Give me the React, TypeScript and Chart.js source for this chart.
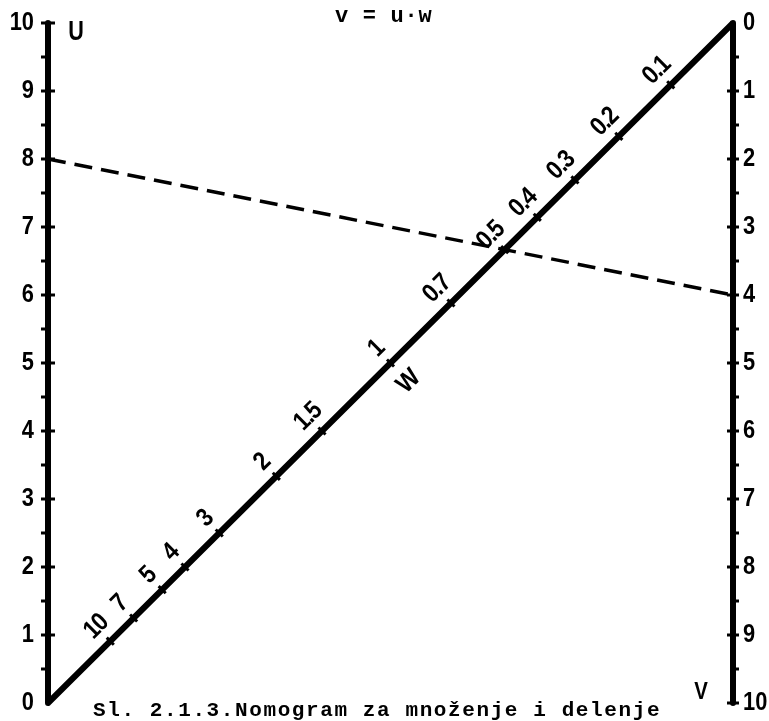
import { useEffect, useRef } from "react";
import { Chart, registerables } from "chart.js";

Chart.register(...registerables);

// U scale (left, rising) and V scale (right, falling) share the 0–10 range
const uTicks = [0, 1, 2, 3, 4, 5, 6, 7, 8, 9, 10];
const vTicks = [0, 1, 2, 3, 4, 5, 6, 7, 8, 9, 10];
// graduations of the diagonal W scale
const wValues = [10, 7, 5, 4, 3, 2, 1.5, 1, 0.7, 0.5, 0.4, 0.3, 0.2, 0.1];
const wLabels = ["10", "7", "5", "4", "3", "2", "1.5", "1", "0.7", "0.5", "0.4", "0.3", "0.2", "0.1"];
// worked example: u = 8 and v = 4 give w = 0.5
const exampleU = 8;
const exampleV = 4;

const formula = "v = u·w";
const caption = "Sl. 2.1.3.Nomogram za množenje i delenje";
const INK = "#000";

// a point of the W scale on the diagonal (x in 0..1, y in U units)
const wPos = (w: number) => ({ x: 1 / (1 + w), y: 10 / (1 + w) });

type TextOpts = {
  font: string;
  align?: CanvasTextAlign;
  baseline?: CanvasTextBaseline;
  angle?: number;
  sx?: number;
  spacing?: number;
};

function drawText(ctx: CanvasRenderingContext2D, text: string, x: number, y: number, o: TextOpts) {
  ctx.save();
  ctx.translate(x, y);
  if (o.angle) ctx.rotate(o.angle);
  if (o.sx) ctx.scale(o.sx, 1);
  ctx.font = o.font;
  ctx.textAlign = o.align ?? "center";
  ctx.textBaseline = o.baseline ?? "middle";
  (ctx as any).letterSpacing = (o.spacing ?? 0) + "px";
  ctx.fillStyle = INK;
  ctx.fillText(text, 0, 0);
  ctx.restore();
}

const NUM_FONT = "bold 26px 'Liberation Sans', Arial, sans-serif";
const W_FONT = "bold 26px 'Liberation Sans', Arial, sans-serif";
const MONO = "'Liberation Mono', 'DejaVu Sans Mono', monospace";

const nomogramPlugin = {
  id: "nomogramScales",
  afterDatasetsDraw(chart: any) {
    const ctx: CanvasRenderingContext2D = chart.ctx;
    const xs = chart.scales.x;
    const ys = chart.scales.y;
    const vs = chart.scales.v;
    const xl = xs.getPixelForValue(0);
    const xr = xs.getPixelForValue(1);

    ctx.save();
    ctx.strokeStyle = INK;
    ctx.lineCap = "butt";

    // U axis graduations: whole units across the line, halves on the outside
    ctx.lineWidth = 3;
    uTicks.forEach((u, i) => {
      if (u > 0) {
        const py = ys.getPixelForValue(u);
        ctx.beginPath();
        ctx.moveTo(xl - 7, py);
        ctx.lineTo(xl + 7, py);
        ctx.stroke();
      }
      if (i < uTicks.length - 1) {
        const ph = ys.getPixelForValue((u + uTicks[i + 1]) / 2);
        ctx.beginPath();
        ctx.moveTo(xl - 7, ph);
        ctx.lineTo(xl, ph);
        ctx.stroke();
      }
    });

    // V axis graduations
    vTicks.forEach((v, i) => {
      if (v > 0) {
        const py = vs.getPixelForValue(v);
        ctx.beginPath();
        ctx.moveTo(xr - 6, py);
        ctx.lineTo(xr + 6, py);
        ctx.stroke();
      }
      if (i < vTicks.length - 1) {
        const ph = vs.getPixelForValue((v + vTicks[i + 1]) / 2);
        ctx.beginPath();
        ctx.moveTo(xr, ph);
        ctx.lineTo(xr + 6, ph);
        ctx.stroke();
      }
    });
    ctx.restore();

    // tick labels of U and V
    uTicks.forEach((u) => {
      drawText(ctx, String(u), xl - 14, ys.getPixelForValue(u), {
        font: NUM_FONT,
        align: "right",
        sx: 0.84,
      });
    });
    vTicks.forEach((v) => {
      drawText(ctx, String(v), xr + 10, vs.getPixelForValue(v), {
        font: NUM_FONT,
        align: "left",
        sx: 0.84,
      });
    });

    // W labels, set along the diagonal on its upper side
    const p0 = { x: xl, y: ys.getPixelForValue(0) };
    const p1 = { x: xr, y: ys.getPixelForValue(10) };
    const len = Math.hypot(p1.x - p0.x, p1.y - p0.y);
    const d = { x: (p1.x - p0.x) / len, y: (p1.y - p0.y) / len };
    const n = { x: d.y, y: -d.x };
    const angle = Math.atan2(d.y, d.x);
    wValues.forEach((w, i) => {
      const p = wPos(w);
      const px = xs.getPixelForValue(p.x);
      const py = ys.getPixelForValue(p.y);
      drawText(ctx, wLabels[i], px + n.x * 20, py + n.y * 20, {
        font: W_FONT,
        angle,
        sx: 0.86,
        spacing: -1.5,
      });
    });

    // scale names
    const w1 = wPos(1);
    drawText(
      ctx,
      "W",
      xs.getPixelForValue(w1.x) - n.x * 26,
      ys.getPixelForValue(w1.y) - n.y * 26,
      { font: "bold 26px 'Liberation Sans', Arial, sans-serif", angle, sx: 0.9 }
    );
    drawText(ctx, "U", xl + 28, ys.getPixelForValue(10) + 10, {
      font: "bold 27px 'Liberation Sans', Arial, sans-serif",
      sx: 0.8,
    });
    drawText(ctx, "V", xr - 32, vs.getPixelForValue(10) - 11, {
      font: "bold 24px 'Liberation Sans', Arial, sans-serif",
      sx: 0.85,
    });

    // formula and caption
    drawText(ctx, formula, 335, 22, {
      font: `bold 22px ${MONO}`,
      align: "left",
      baseline: "alphabetic",
      spacing: 0.7,
    });
    drawText(ctx, caption, 93, 716, {
      font: `bold 21px ${MONO}`,
      align: "left",
      baseline: "alphabetic",
      spacing: 1.6,
    });
  },
};

export default function App() {
  const ref = useRef<HTMLCanvasElement | null>(null);

  useEffect(() => {
    if (!ref.current) return;
    const wPoints = wValues.map(wPos);

    const chart = new Chart(ref.current, {
      type: "scatter",
      data: {
        datasets: [
          {
            // U axis and the diagonal W carrier
            data: [
              { x: 0, y: 10 },
              { x: 0, y: 0 },
              { x: 1, y: 10 },
            ],
            yAxisID: "y",
            showLine: true,
            borderColor: INK,
            borderWidth: 6,
            borderJoinStyle: "round",
            borderCapStyle: "butt",
            pointRadius: 0,
            clip: false,
          } as any,
          {
            // V axis, 0 at the top
            data: [
              { x: 1, y: 0 },
              { x: 1, y: 10 },
            ],
            yAxisID: "v",
            showLine: true,
            borderColor: INK,
            borderWidth: 6,
            borderCapStyle: "round",
            pointRadius: 0,
            clip: false,
          } as any,
          {
            // graduation marks across the W line
            data: wPoints,
            yAxisID: "y",
            showLine: false,
            pointStyle: "line",
            rotation: 45,
            pointRadius: 5,
            borderColor: INK,
            borderWidth: 3,
            clip: false,
          } as any,
          {
            // key line of the example
            data: [
              { x: 0, y: exampleU },
              { x: 1, y: 10 - exampleV },
            ],
            yAxisID: "y",
            showLine: true,
            borderColor: INK,
            borderWidth: 3.5,
            borderDash: [18, 9],
            pointRadius: 0,
            clip: false,
          } as any,
        ],
      },
      options: {
        responsive: false,
        animation: false,
        events: [],
        layout: { padding: { left: 48, right: 36, top: 23, bottom: 18 } },
        plugins: {
          legend: { display: false },
          tooltip: { enabled: false },
          title: { display: false },
        },
        scales: {
          x: { type: "linear", min: 0, max: 1, display: false },
          y: { type: "linear", min: 0, max: 10, display: false },
          v: { type: "linear", min: 0, max: 10, reverse: true, display: false },
        },
      } as any,
      plugins: [nomogramPlugin],
    });
    return () => chart.destroy();
  }, []);

  return (
    <div style={{ position: "fixed", left: 0, top: 0, width: 769, height: 721, background: "#fff" }}>
      <canvas ref={ref} width={769} height={721} style={{ display: "block" }} />
    </div>
  );
}
